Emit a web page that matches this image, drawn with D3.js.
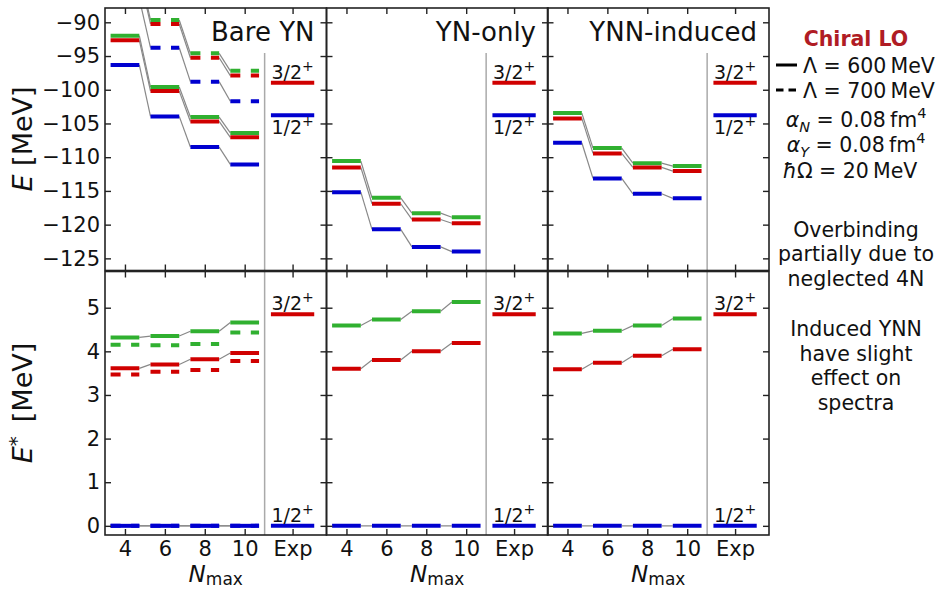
<!DOCTYPE html>
<html>
<head>
<meta charset="utf-8">
<script src="https://cdn.jsdelivr.net/npm/d3@7"></script>
<style>
  body { margin: 0; background: #fff; }
  svg { display: block; font-family: "DejaVu Sans", sans-serif; }
</style>
</head>
<body>
<div id="chart"></div>
<script>
// --- data ---
const nmax = [4, 6, 8, 10];
const panelTitles = ["Bare YN", "YN-only", "YNN-induced"];
const expLabels = ["1/2", "3/2"];
const expE = [-103.8, -98.95];
const expEx = [0, 4.85];

// ground-state energies E [MeV], Lambda = 600 MeV (solid)
const bareBlue600 = [-96.33, -103.95, -108.5, -111.07];
const bareRed600 = [-92.67, -100.2, -104.7, -107.06];
const bareGreen600 = [-91.98, -99.6, -104.05, -106.4];
// Lambda = 700 MeV (dashed), only for bare YN
const bareBlue700 = [-86.5, -93.77, -98.8, -101.7];
const bareRed700 = [-83.0, -90.25, -95.25, -97.9];
const bareGreen700 = [-82.35, -89.66, -94.6, -97.2];
const ynBlue = [-115.18, -120.7, -123.3, -124.0];
const ynRed = [-111.52, -116.9, -119.23, -119.8];
const ynGreen = [-110.58, -116.02, -118.3, -118.9];
const ynnBlue = [-107.86, -113.15, -115.43, -116.1];
const ynnRed = [-104.25, -109.44, -111.52, -112.06];
const ynnGreen = [-103.46, -108.65, -110.88, -111.32];

// excitation energies E* [MeV]
const zeros = [0, 0, 0, 0];
const bareRedEx600 = [3.61, 3.70, 3.82, 3.96];
const bareGreenEx600 = [4.32, 4.35, 4.46, 4.66];
const bareRedEx700 = [3.47, 3.53, 3.57, 3.78];
const bareGreenEx700 = [4.15, 4.14, 4.17, 4.43];
const ynRedEx = [3.60, 3.80, 4.00, 4.19];
const ynGreenEx = [4.59, 4.73, 4.92, 5.13];
const ynnRedEx = [3.59, 3.74, 3.90, 4.05];
const ynnGreenEx = [4.41, 4.47, 4.59, 4.75];

const topTicks = [-90, -95, -100, -105, -110, -115, -120, -125];
const botTicks = [0, 1, 2, 3, 4, 5];
const xTicks = [4, 6, 8, 10, 12.4];

const COL = { blue: "#0000d0", red: "#d00000", green: "#30b030" };

// series per panel: [values, colour, dashed]
const topSeries = [
  [[bareGreen600, "green", false], [bareRed600, "red", false], [bareBlue600, "blue", false],
   [bareGreen700, "green", true], [bareRed700, "red", true], [bareBlue700, "blue", true]],
  [[ynGreen, "green", false], [ynRed, "red", false], [ynBlue, "blue", false]],
  [[ynnGreen, "green", false], [ynnRed, "red", false], [ynnBlue, "blue", false]]
];
const botSeries = [
  [[bareGreenEx600, "green", false], [bareRedEx600, "red", false], [zeros, "blue", false],
   [bareGreenEx700, "green", true], [bareRedEx700, "red", true], [zeros, "blue", true]],
  [[ynGreenEx, "green", false], [ynRedEx, "red", false], [zeros, "blue", false]],
  [[ynnGreenEx, "green", false], [ynnRedEx, "red", false], [zeros, "blue", false]]
];

const W = 939, H = 589;
const panelX0 = [105, 326.5, 547.5];
const panelW = 221.5;
const halfW = 0.72, expHalf = 1.085, expX = 12.4, sepX = 11;

const svg = d3.select("#chart").append("svg")
  .attr("width", W).attr("height", H);
svg.append("rect").attr("width", W).attr("height", H).attr("fill", "#fff");

const yTop = d3.scaleLinear().domain([-126.8, -87.88]).range([270.5, 8]);
const yBot = d3.scaleLinear().domain([-0.21, 5.83]).range([535, 271.5]);

function drawPanel(i, y, series, isTop) {
  const x = d3.scaleLinear().domain([3, 14.1]).range([panelX0[i], panelX0[i] + panelW]);
  const [y0, y1] = y.range();
  const id = `clip-${i}-${isTop ? "t" : "b"}`;
  svg.append("clipPath").attr("id", id).append("rect")
    .attr("x", panelX0[i]).attr("y", y1).attr("width", panelW).attr("height", y0 - y1);
  const g = svg.append("g").attr("clip-path", `url(#${id})`);

  // exp separator
  g.append("line")
    .attr("x1", x(sepX)).attr("x2", x(sepX))
    .attr("y1", isTop ? 53 : y1).attr("y2", y0)
    .attr("stroke", "#aaa").attr("stroke-width", 1.5);

  // connectors
  series.forEach(([vals, col, dashed]) => {
    if (!isTop && dashed && col !== "blue") return;
    for (let k = 0; k < vals.length - 1; k++) {
      g.append("line")
        .attr("x1", x(nmax[k] + halfW)).attr("y1", y(vals[k]))
        .attr("x2", x(nmax[k + 1] - halfW)).attr("y2", y(vals[k + 1]))
        .attr("stroke", "#888").attr("stroke-width", 1.2);
    }
  });

  // levels
  series.forEach(([vals, col, dashed]) => {
    vals.forEach((v, k) => {
      g.append("line")
        .attr("x1", x(nmax[k] - halfW)).attr("x2", x(nmax[k] + halfW))
        .attr("y1", y(v)).attr("y2", y(v))
        .attr("stroke", COL[col]).attr("stroke-width", 4)
        .attr("stroke-dasharray", dashed ? "10,10.5" : null);
    });
  });

  // experiment
  const ev = isTop ? expE : expEx;
  ev.forEach((v, k) => {
    g.append("line")
      .attr("x1", x(expX - expHalf)).attr("x2", x(expX + expHalf))
      .attr("y1", y(v)).attr("y2", y(v))
      .attr("stroke", k === 0 ? COL.blue : COL.red).attr("stroke-width", 4);
    const below = isTop && k === 0;
    const t = svg.append("text")
      .attr("x", x(expX)).attr("y", y(v) + (below ? 19 : -4))
      .attr("text-anchor", "middle").attr("font-size", 19).attr("fill", "#111")
      .text(expLabels[k]);
    t.append("tspan").attr("dy", -8).attr("font-size", 14).text("+");
  });

  // axes (inward ticks)
  const fmtX = d => d === expX ? "Exp" : d;
  const ax = (gen, tr, labels) => {
    const a = svg.append("g").attr("transform", tr).call(gen);
    a.select(".domain").remove();
    a.selectAll(".tick line").attr("stroke", "#222").attr("stroke-width", 1.4);
    a.selectAll("text").attr("font-size", 21).attr("fill", "#111")
      .attr("font-family", "DejaVu Sans, sans-serif");
    if (!labels) a.selectAll("text").remove();
    return a;
  };
  const ticksY = isTop ? topTicks : botTicks;
  ax(d3.axisLeft(y).tickValues(ticksY).tickSize(-6).tickPadding(5).tickFormat(d3.format("d")),
     `translate(${panelX0[i]},0)`, i === 0);
  ax(d3.axisRight(y).tickValues(ticksY).tickSize(-6), `translate(${panelX0[i] + panelW},0)`, false);
  ax(d3.axisTop(x).tickValues(xTicks).tickSize(-6), `translate(0,${y1})`, false);
  ax(d3.axisBottom(x).tickValues(xTicks).tickSize(-6).tickPadding(6).tickFormat(fmtX),
     `translate(0,${y0})`, !isTop);

  // frame
  svg.append("rect")
    .attr("x", panelX0[i]).attr("y", y1).attr("width", panelW).attr("height", y0 - y1)
    .attr("fill", "none").attr("stroke", "#222").attr("stroke-width", 1.6);

  if (isTop) {
    svg.append("text")
      .attr("x", panelX0[i] + panelW - 12).attr("y", 41)
      .attr("text-anchor", "end").attr("font-size", 26).attr("fill", "#111")
      .text(panelTitles[i]);
  } else {
    const nl = svg.append("text")
      .attr("x", panelX0[i] + panelW / 2).attr("y", 581.5)
      .attr("text-anchor", "middle").attr("fill", "#111").attr("font-size", 23);
    nl.append("tspan").attr("font-style", "italic").text("N");
    nl.append("tspan").attr("dy", 3.5).attr("font-size", 17).text("max");
  }
}

for (let i = 0; i < 3; i++) {
  drawPanel(i, yTop, topSeries[i], true);
  drawPanel(i, yBot, botSeries[i], false);
}

// y labels
const yl1 = svg.append("text").attr("transform", "translate(32,139) rotate(-90)")
  .attr("text-anchor", "middle").attr("font-size", 27).attr("fill", "#111");
yl1.append("tspan").attr("font-style", "italic").text("E");
yl1.append("tspan").text(" [MeV]");
const yl2 = svg.append("text").attr("transform", "translate(32,403) rotate(-90)")
  .attr("text-anchor", "middle").attr("font-size", 27).attr("fill", "#111");
yl2.append("tspan").attr("font-style", "italic").text("E");
yl2.append("tspan").attr("dy", -9).attr("font-size", 20).text("*");
yl2.append("tspan").attr("dy", 9).text("\u2009 [MeV]");

// side notes
const cx = 856, fs = 20.5;
svg.append("text").attr("x", cx).attr("y", 46).attr("text-anchor", "middle")
  .attr("font-size", fs).attr("font-weight", "bold").attr("fill", "#b01c24").text("Chiral LO");

svg.append("line").attr("x1", 776).attr("x2", 797).attr("y1", 65).attr("y2", 65)
  .attr("stroke", "#000").attr("stroke-width", 3);
svg.append("line").attr("x1", 776).attr("x2", 797).attr("y1", 90).attr("y2", 90)
  .attr("stroke", "#000").attr("stroke-width", 3).attr("stroke-dasharray", "7.5,5");
svg.append("text").attr("x", 803).attr("y", 72.5).attr("font-size", fs).attr("fill", "#111")
  .text("\u039b = 600\u2009MeV");
svg.append("text").attr("x", 803).attr("y", 98).attr("font-size", fs).attr("fill", "#111")
  .text("\u039b = 700\u2009MeV");

function alphaLine(y, sub) {
  const t = svg.append("text").attr("x", cx).attr("y", y).attr("text-anchor", "middle")
    .attr("font-size", fs).attr("fill", "#111");
  t.append("tspan").attr("font-style", "italic").text("\u03b1");
  t.append("tspan").attr("font-style", "italic").attr("font-size", 14.5).attr("dy", 5).text(sub);
  t.append("tspan").attr("dy", -5).text(" = 0.08\u2009fm");
  t.append("tspan").attr("font-size", 14.5).attr("dy", -9).text("4");
}
alphaLine(127, "N");
alphaLine(151.5, "Y");
const hw = svg.append("text").attr("x", cx - 6).attr("y", 178).attr("text-anchor", "middle")
  .attr("font-size", fs).attr("fill", "#111");
hw.append("tspan").attr("font-style", "italic").text("\u0127");
hw.append("tspan").text("\u03a9 = 20\u2009MeV");

const notes = [
  ["Overbinding", 236.5], ["partially due to", 261], ["neglected 4N", 285.5],
  ["Induced YNN", 336], ["have slight", 360.5], ["effect on", 385], ["spectra", 409.5]
];
notes.forEach(([s, y]) => {
  svg.append("text").attr("x", cx).attr("y", y).attr("text-anchor", "middle")
    .attr("font-size", fs).attr("fill", "#111").text(s);
});
</script>
</body>
</html>
